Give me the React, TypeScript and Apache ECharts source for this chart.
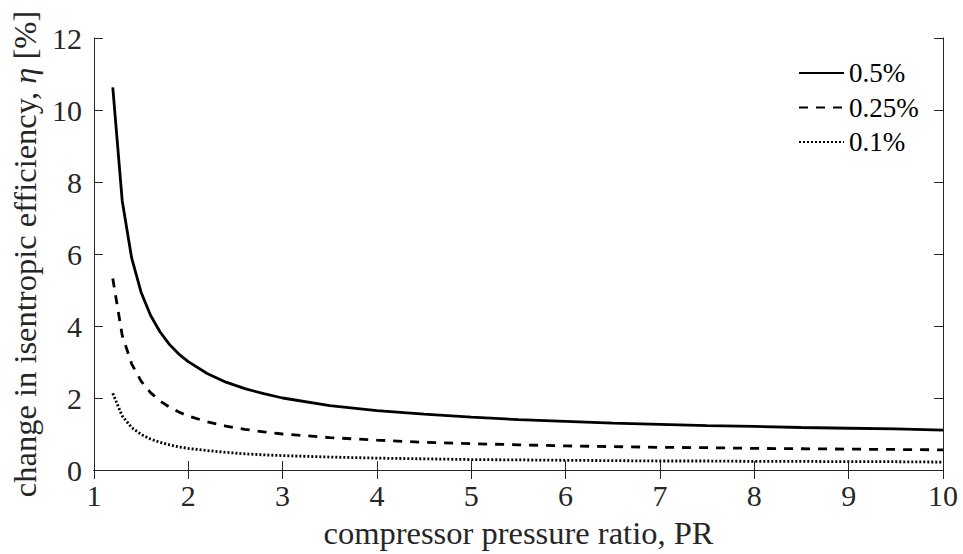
import React, { useEffect, useRef } from "react";
import * as echarts from "echarts";

const pressureRatio = [1.2, 1.3, 1.4, 1.5, 1.6, 1.7, 1.8, 1.9, 2.0, 2.2, 2.4, 2.6, 2.8, 3.0, 3.5, 4, 4.5, 5, 5.5, 6, 6.5, 7, 7.5, 8, 8.5, 9, 9.5, 10];
const eta05 = [10.63, 7.48, 5.89, 4.94, 4.30, 3.84, 3.49, 3.22, 3.01, 2.68, 2.44, 2.26, 2.12, 2.00, 1.79, 1.65, 1.55, 1.47, 1.40, 1.35, 1.30, 1.27, 1.23, 1.21, 1.18, 1.16, 1.14, 1.11];
const eta025 = [5.32, 3.74, 2.95, 2.47, 2.15, 1.92, 1.75, 1.61, 1.50, 1.34, 1.22, 1.13, 1.06, 1.00, 0.90, 0.83, 0.77, 0.73, 0.70, 0.67, 0.65, 0.63, 0.62, 0.60, 0.59, 0.58, 0.57, 0.56];
const eta01 = [2.13, 1.50, 1.18, 0.99, 0.86, 0.77, 0.70, 0.64, 0.60, 0.54, 0.49, 0.45, 0.42, 0.40, 0.36, 0.33, 0.31, 0.29, 0.28, 0.27, 0.26, 0.25, 0.25, 0.24, 0.24, 0.23, 0.23, 0.22];
const seriesNames = ["0.5%", "0.25%", "0.1%"];
const xTitle = "compressor pressure ratio, PR";
const yTitle = "change in isentropic efficiency, {i|η} [%]";

const FONT = "Liberation Serif";
const AXIS_COLOR = "#262626";

export default function App() {
  const ref = useRef<HTMLDivElement>(null);
  useEffect(() => {
    if (!ref.current) return;
    const chart = echarts.init(ref.current, undefined, { renderer: "svg" });
    const pairs = (ys: number[]) => pressureRatio.map((x, i) => [x, ys[i]]);
    const tickCommon = {
      show: true,
      inside: true,
      length: 9,
      lineStyle: { color: AXIS_COLOR, width: 1 },
    };
    const axisLine = { show: true, lineStyle: { color: AXIS_COLOR, width: 1 } };
    const tickRich = {
      t: { fontFamily: FONT, fontSize: 30, color: "#262626" },
    };
    const option: any = {
      animation: false,
      backgroundColor: "#ffffff",
      textStyle: { fontFamily: FONT },
      grid: { left: 90, right: 20, top: 38, bottom: 84, containLabel: false },
      legend: {
        orient: "vertical",
        left: 798,
        top: 59.5,
        padding: 0,
        itemWidth: 45,
        itemHeight: 14,
        itemGap: 7.5,
        itemStyle: { opacity: 0, borderWidth: 0 },
        formatter: (name: string) => `{l|${name}}`,
        textStyle: {
          fontFamily: FONT,
          fontSize: 27,
          color: "#000",
          lineHeight: 27,
          rich: { l: { fontFamily: FONT, fontSize: 27, color: "#000", lineHeight: 27 } },
        },
        data: seriesNames,
      },
      xAxis: [
        {
          type: "value",
          min: 1,
          max: 10,
          interval: 1,
          position: "bottom",
          axisLine,
          axisTick: tickCommon,
          splitLine: { show: false },
          axisLabel: {
            fontFamily: FONT,
            fontSize: 30,
            color: "#262626",
            margin: 10,
            formatter: (v: number) => `{t|${v}}`,
            rich: tickRich,
          },
          name: xTitle,
          nameLocation: "middle",
          nameGap: 46,
          nameTextStyle: { fontFamily: FONT, fontSize: 32.5, color: "#262626" },
        },
        {
          type: "value",
          min: 1,
          max: 10,
          interval: 1,
          position: "top",
          axisLine,
          axisTick: tickCommon,
          splitLine: { show: false },
          axisLabel: { show: false },
        },
      ],
      yAxis: [
        {
          type: "value",
          min: 0,
          max: 12,
          interval: 2,
          position: "left",
          axisLine,
          axisTick: tickCommon,
          splitLine: { show: false },
          axisLabel: {
            fontFamily: FONT,
            fontSize: 30,
            color: "#262626",
            margin: 12,
            formatter: (v: number) => `{t|${v}}`,
            rich: tickRich,
          },
          name: yTitle,
          nameLocation: "middle",
          nameGap: 46,
          nameTextStyle: {
            fontFamily: FONT,
            fontSize: 32.5,
            color: "#262626",
            rich: {
              i: { fontFamily: FONT, fontSize: 32.5, fontStyle: "italic", color: "#262626" },
            },
          },
        },
        {
          type: "value",
          min: 0,
          max: 12,
          interval: 2,
          position: "right",
          axisLine,
          axisTick: tickCommon,
          splitLine: { show: false },
          axisLabel: { show: false },
        },
      ],
      series: [
        {
          name: seriesNames[0],
          type: "line",
          data: pairs(eta05),
          symbol: "none",
          showSymbol: false,
          lineStyle: { color: "#000", width: 2.8, type: "solid" },
          itemStyle: { color: "#000" },
        },
        {
          name: seriesNames[1],
          type: "line",
          data: pairs(eta025),
          symbol: "none",
          showSymbol: false,
          lineStyle: { color: "#000", width: 2.8, type: [9, 8] },
          itemStyle: { color: "#000" },
        },
        {
          name: seriesNames[2],
          type: "line",
          data: pairs(eta01),
          symbol: "none",
          showSymbol: false,
          lineStyle: { color: "#000", width: 2.8, type: [2, 2] },
          itemStyle: { color: "#000" },
        },
      ],
    };
    chart.setOption(option);
    return () => chart.dispose();
  }, []);
  return (
    <div
      ref={ref}
      style={{ position: "fixed", left: 0, top: 0, width: 963, height: 554, background: "#fff" }}
    />
  );
}
